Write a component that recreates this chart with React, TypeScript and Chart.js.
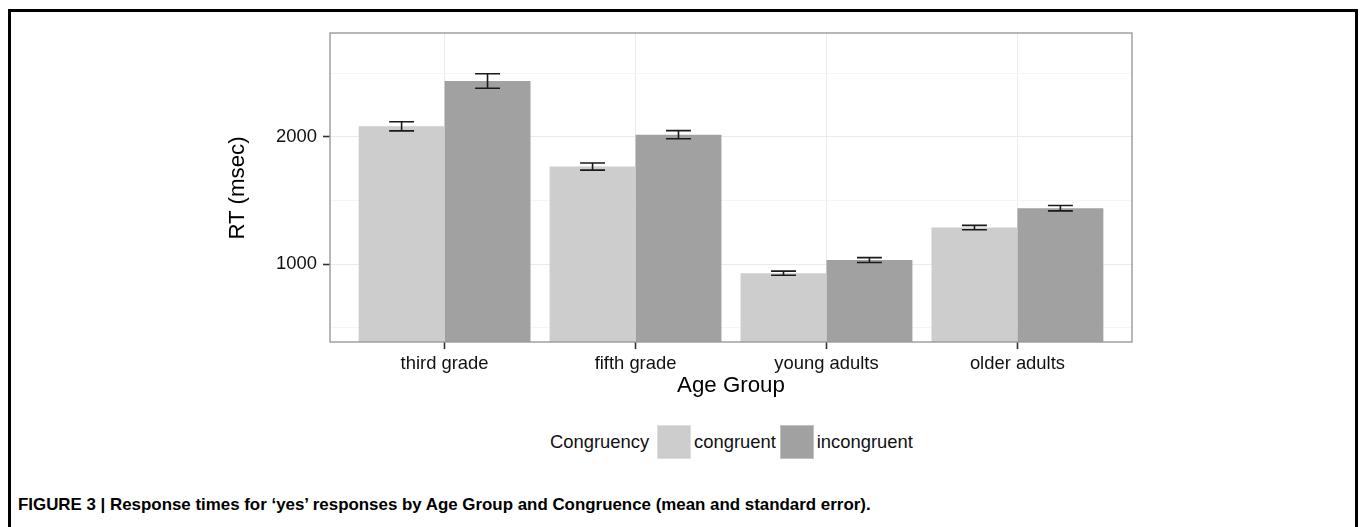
import { useEffect, useRef } from "react";
import { Chart, registerables } from "chart.js";

Chart.register(...registerables);

// Mean response times (msec) and their standard errors per age group
const ageGroups = ["third grade", "fifth grade", "young adults", "older adults"];
const congruentRT = [2083, 1767, 930, 1288];
const incongruentRT = [2438, 2017, 1033, 1440];
const congruentSE = [36, 28, 16, 17];
const incongruentSE = [57, 32, 19, 21];
const yTickValues = [500, 1000, 1500, 2000, 2500];
const yLabelledTicks = [1000, 2000];
const seriesNames = ["congruent", "incongruent"];
const legendTitle = "Congruency";
const xTitle = "Age Group";
const yTitle = "RT (msec)";
const caption =
  "FIGURE 3 | Response times for \u2018yes\u2019 responses by Age Group and Congruence (mean and standard error).";

const FONT = "'Liberation Sans', Arial, Helvetica, sans-serif";
const LIGHT = "#cdcdcd";
const DARK = "#a1a1a1";
const TEXT = "#111111";

// Whiskers of mean ± SE over each bar, then the grey panel frame on top
const errorBars = {
  id: "errorBars",
  afterDatasetsDraw(chart: any) {
    const { ctx } = chart;
    const y = chart.scales.y;
    ctx.save();
    ctx.strokeStyle = "#1a1a1a";
    ctx.lineWidth = 1.6;
    chart.data.datasets.forEach((ds: any, di: number) => {
      const meta = chart.getDatasetMeta(di);
      meta.data.forEach((bar: any, i: number) => {
        const mean = ds.data[i].y;
        const se = ds.errors[i];
        const top = y.getPixelForValue(mean + se);
        const bot = y.getPixelForValue(mean - se);
        const half = bar.width * 0.145;
        ctx.beginPath();
        ctx.moveTo(bar.x - half, top);
        ctx.lineTo(bar.x + half, top);
        ctx.moveTo(bar.x, top);
        ctx.lineTo(bar.x, bot);
        ctx.moveTo(bar.x - half, bot);
        ctx.lineTo(bar.x + half, bot);
        ctx.stroke();
      });
    });
    ctx.restore();
  },
  afterDraw(chart: any) {
    const { ctx, chartArea: a } = chart;
    ctx.save();
    ctx.strokeStyle = "#9a9a9a";
    ctx.lineWidth = 1.4;
    ctx.strokeRect(a.left, a.top, a.right - a.left, a.bottom - a.top);
    ctx.restore();
  },
};

const clearScalePadding = (s: any) => {
  s.paddingTop = 0;
  s.paddingBottom = 0;
  s.paddingLeft = 0;
  s.paddingRight = 0;
};

function RTChart() {
  const ref = useRef<HTMLCanvasElement | null>(null);

  useEffect(() => {
    if (!ref.current) return;
    const chart = new Chart(ref.current, {
      type: "bar",
      data: {
        datasets: [
          {
            label: seriesNames[0],
            data: congruentRT.map((v, i) => ({ x: i + 1, y: v })),
            errors: congruentSE,
            backgroundColor: LIGHT,
            borderWidth: 0,
          } as any,
          {
            label: seriesNames[1],
            data: incongruentRT.map((v, i) => ({ x: i + 1, y: v })),
            errors: incongruentSE,
            backgroundColor: DARK,
            borderWidth: 0,
          } as any,
        ],
      },
      options: {
        animation: false,
        responsive: false,
        devicePixelRatio: 1,
        categoryPercentage: 0.9,
        barPercentage: 1,
        layout: { padding: { top: 13, right: 28, left: 0, bottom: 0 } },
        plugins: {
          legend: { display: false },
          tooltip: { enabled: false },
          title: { display: false },
        },
        scales: {
          x: {
            type: "linear",
            min: 0.4,
            max: 4.6,
            offset: false,
            afterBuildTicks: (s: any) => {
              s.ticks = ageGroups.map((_, i) => ({ value: i + 1 }));
            },
            afterFit: (s: any) => {
              s.height = 58;
              clearScalePadding(s);
            },
            border: { display: false },
            grid: {
              offset: false,
              color: "#ebebeb",
              lineWidth: 1,
              drawTicks: true,
              tickLength: 7,
              tickColor: "#333333",
              tickWidth: 1.6,
            },
            ticks: {
              autoSkip: false,
              maxRotation: 0,
              padding: 4,
              color: TEXT,
              font: { family: FONT, size: 18.4 },
              callback: (v: any) => ageGroups[Number(v) - 1] ?? "",
            },
          },
          y: {
            type: "linear",
            min: 390,
            max: 2815,
            afterBuildTicks: (s: any) => {
              s.ticks = yTickValues.map((value) => ({ value }));
            },
            afterFit: (s: any) => {
              s.width = 140;
              clearScalePadding(s);
            },
            border: { display: false },
            grid: {
              color: (c: any) =>
                yLabelledTicks.includes(c.tick?.value) ? "#ebebeb" : "#f5f5f5",
              lineWidth: 1,
              drawTicks: true,
              tickLength: 7,
              tickColor: (c: any) =>
                yLabelledTicks.includes(c.tick?.value) ? "#333333" : "rgba(0,0,0,0)",
              tickWidth: 1.6,
            },
            ticks: {
              padding: 6,
              color: TEXT,
              font: { family: FONT, size: 18.4 },
              callback: (v: any) => (yLabelledTicks.includes(Number(v)) ? String(v) : ""),
            },
          },
        },
      } as any,
      plugins: [errorBars],
    });
    return () => chart.destroy();
  }, []);

  return (
    <canvas
      ref={ref}
      width={970}
      height={380}
      style={{ position: "absolute", left: 179, top: 8, width: 970, height: 380 }}
    />
  );
}

const swatch = (color: string, left: number) => (
  <div
    style={{
      position: "absolute",
      left,
      top: 413,
      width: 34,
      height: 34,
      background: color,
      boxSizing: "border-box",
      border: "1px solid rgba(255,255,255,0.35)",
    }}
  />
);

const legendText = (text: string, left: number) => (
  <div
    style={{
      position: "absolute",
      left,
      top: 413,
      height: 34,
      lineHeight: "34px",
      fontFamily: FONT,
      fontSize: 18.4,
      color: TEXT,
      whiteSpace: "nowrap",
    }}
  >
    {text}
  </div>
);

export default function App() {
  return (
    <div
      style={{
        position: "fixed",
        left: 8,
        top: 9,
        width: 1350,
        height: 518,
        boxSizing: "border-box",
        borderTop: "3px solid #000",
        borderLeft: "3px solid #000",
        borderRight: "3px solid #000",
        background: "#fff",
        overflow: "hidden",
      }}
    >
      <RTChart />
      <div
        style={{
          position: "absolute",
          left: 126,
          top: 165,
          width: 200,
          height: 22,
          lineHeight: "22px",
          textAlign: "center",
          fontFamily: FONT,
          fontSize: 22.3,
          color: "#000",
          transform: "rotate(-90deg)",
          whiteSpace: "nowrap",
        }}
      >
        {yTitle}
      </div>
      <div
        style={{
          position: "absolute",
          left: 570,
          top: 362,
          width: 300,
          lineHeight: 1,
          textAlign: "center",
          fontFamily: FONT,
          fontSize: 22.3,
          color: "#000",
        }}
      >
        {xTitle}
      </div>
      {legendText(legendTitle, 539)}
      {swatch(LIGHT, 645.7)}
      {legendText(seriesNames[0], 683)}
      {swatch(DARK, 769)}
      {legendText(seriesNames[1], 805.7)}
      <div
        style={{
          position: "absolute",
          left: 7,
          top: 485,
          lineHeight: 1,
          fontFamily: FONT,
          fontWeight: "bold",
          fontSize: 16.9,
          color: "#000",
          whiteSpace: "nowrap",
        }}
      >
        {caption}
      </div>
    </div>
  );
}
